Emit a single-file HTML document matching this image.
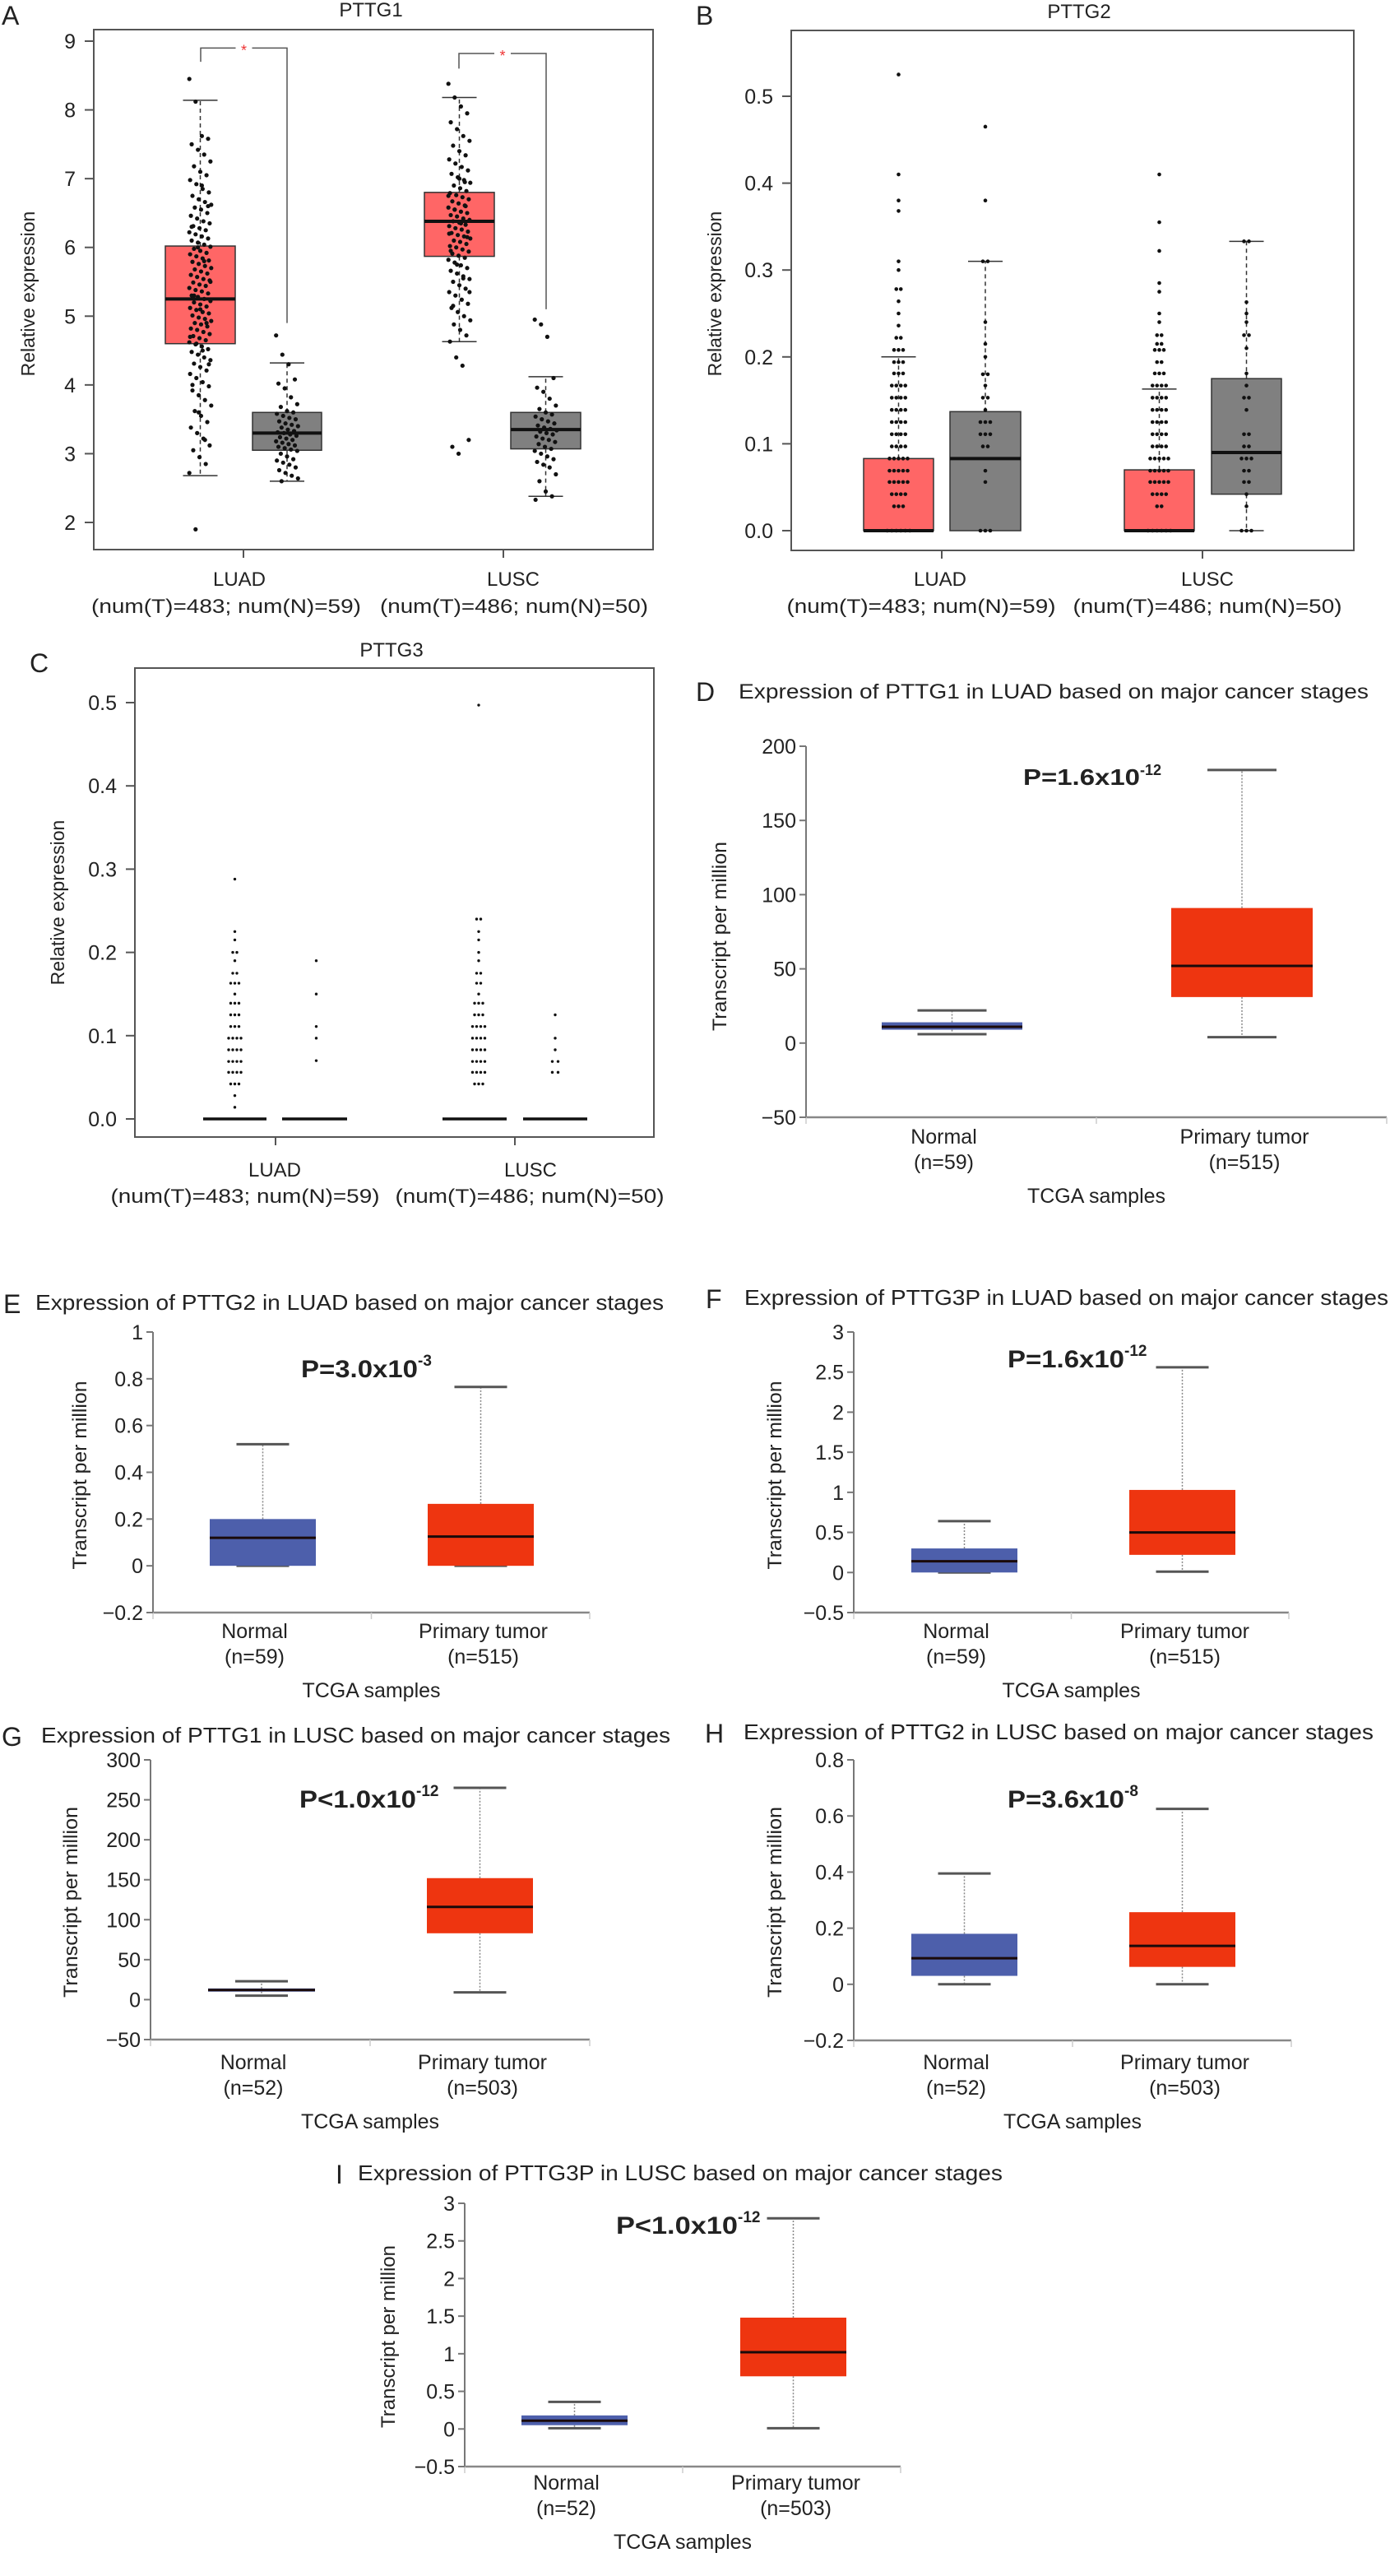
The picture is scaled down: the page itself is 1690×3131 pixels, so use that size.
<!DOCTYPE html>
<html><head><meta charset="utf-8"><title>PTTG expression figure</title>
<style>
html,body{margin:0;padding:0;background:#fff;}
svg{display:block;font-family:"Liberation Sans",Arial,sans-serif;}
text{fill:#222;}
</style></head>
<body>
<svg id="fig" xmlns="http://www.w3.org/2000/svg" width="1690" height="3131" viewBox="0 0 1690 3131">
<rect x="0" y="0" width="1690" height="3131" fill="#fff"/>
<!-- panel letters -->
<text x="2" y="30" font-size="32">A</text>
<text x="846" y="30" font-size="32">B</text>
<text x="36" y="817" font-size="32">C</text>
<text x="846" y="852" font-size="32">D</text>
<text x="4" y="1596" font-size="32">E</text>
<text x="858" y="1590" font-size="32">F</text>
<text x="2" y="2122" font-size="32">G</text>
<text x="857" y="2118" font-size="32">H</text>
<text x="408" y="2654" font-size="32">I</text>

<!-- A/B/C titles -->
<text x="451" y="20" font-size="24" text-anchor="middle">PTTG1</text>
<text x="1312" y="22" font-size="24" text-anchor="middle">PTTG2</text>
<text x="476" y="798" font-size="24" text-anchor="middle">PTTG3</text>

<text transform="translate(42,357) rotate(-90)" font-size="23" text-anchor="middle">Relative expression</text>
<text transform="translate(877,357) rotate(-90)" font-size="23" text-anchor="middle">Relative expression</text>
<text transform="translate(78,1097) rotate(-90)" font-size="23" text-anchor="middle">Relative expression</text>

<!-- A/B/C x labels -->
<text x="291" y="712" font-size="24" text-anchor="middle">LUAD</text>
<text x="275" y="745" font-size="24" text-anchor="middle" textLength="328" lengthAdjust="spacingAndGlyphs">(num(T)=483; num(N)=59)</text>
<text x="624" y="712" font-size="24" text-anchor="middle">LUSC</text>
<text x="625" y="745" font-size="24" text-anchor="middle" textLength="326" lengthAdjust="spacingAndGlyphs">(num(T)=486; num(N)=50)</text>

<text x="1143" y="712" font-size="24" text-anchor="middle">LUAD</text>
<text x="1120" y="745" font-size="24" text-anchor="middle" textLength="327" lengthAdjust="spacingAndGlyphs">(num(T)=483; num(N)=59)</text>
<text x="1468" y="712" font-size="24" text-anchor="middle">LUSC</text>
<text x="1468" y="745" font-size="24" text-anchor="middle" textLength="327" lengthAdjust="spacingAndGlyphs">(num(T)=486; num(N)=50)</text>

<text x="334" y="1430" font-size="24" text-anchor="middle">LUAD</text>
<text x="298" y="1462" font-size="24" text-anchor="middle" textLength="327" lengthAdjust="spacingAndGlyphs">(num(T)=483; num(N)=59)</text>
<text x="645" y="1430" font-size="24" text-anchor="middle">LUSC</text>
<text x="644" y="1462" font-size="24" text-anchor="middle" textLength="327" lengthAdjust="spacingAndGlyphs">(num(T)=486; num(N)=50)</text>

<!-- GEPIA titles -->
<text x="898" y="849" font-size="25" textLength="766" lengthAdjust="spacingAndGlyphs">Expression of PTTG1 in LUAD based on major cancer stages</text>
<text x="43" y="1592" font-size="26" textLength="764" lengthAdjust="spacingAndGlyphs">Expression of PTTG2 in LUAD based on major cancer stages</text>
<text x="905" y="1586" font-size="26" textLength="783" lengthAdjust="spacingAndGlyphs">Expression of PTTG3P in LUAD based on major cancer stages</text>
<text x="50" y="2118" font-size="26" textLength="765" lengthAdjust="spacingAndGlyphs">Expression of PTTG1 in LUSC based on major cancer stages</text>
<text x="904" y="2114" font-size="26" textLength="766" lengthAdjust="spacingAndGlyphs">Expression of PTTG2 in LUSC based on major cancer stages</text>
<text x="435" y="2650" font-size="26" textLength="784" lengthAdjust="spacingAndGlyphs">Expression of PTTG3P in LUSC based on major cancer stages</text>

<!-- P values -->
<text x="1244" y="954" font-size="28" font-weight="bold"><tspan textLength="142" lengthAdjust="spacingAndGlyphs">P=1.6x10</tspan><tspan dy="-12" font-size="18">-12</tspan></text>
<text x="366" y="1674" font-size="30" font-weight="bold"><tspan textLength="142" lengthAdjust="spacingAndGlyphs">P=3.0x10</tspan><tspan dy="-14" font-size="19">-3</tspan></text>
<text x="1225" y="1662" font-size="30" font-weight="bold"><tspan textLength="142" lengthAdjust="spacingAndGlyphs">P=1.6x10</tspan><tspan dy="-14" font-size="19">-12</tspan></text>
<text x="364" y="2197" font-size="30" font-weight="bold"><tspan textLength="142" lengthAdjust="spacingAndGlyphs">P&lt;1.0x10</tspan><tspan dy="-14" font-size="19">-12</tspan></text>
<text x="1225" y="2197" font-size="30" font-weight="bold"><tspan textLength="142" lengthAdjust="spacingAndGlyphs">P=3.6x10</tspan><tspan dy="-14" font-size="19">-8</tspan></text>
<text x="749" y="2715" font-size="30" font-weight="bold"><tspan textLength="148" lengthAdjust="spacingAndGlyphs">P&lt;1.0x10</tspan><tspan dy="-14" font-size="19">-12</tspan></text>

<!-- GEPIA axis titles -->
<text transform="translate(883,1138) rotate(-90)" font-size="24" text-anchor="middle" textLength="230" lengthAdjust="spacingAndGlyphs">Transcript per million</text>
<text transform="translate(105,1793) rotate(-90)" font-size="24" text-anchor="middle" textLength="229" lengthAdjust="spacingAndGlyphs">Transcript per million</text>
<text transform="translate(950,1793) rotate(-90)" font-size="24" text-anchor="middle" textLength="229" lengthAdjust="spacingAndGlyphs">Transcript per million</text>
<text transform="translate(94,2312) rotate(-90)" font-size="24" text-anchor="middle" textLength="232" lengthAdjust="spacingAndGlyphs">Transcript per million</text>
<text transform="translate(950,2312) rotate(-90)" font-size="24" text-anchor="middle" textLength="232" lengthAdjust="spacingAndGlyphs">Transcript per million</text>
<text transform="translate(480,2840) rotate(-90)" font-size="24" text-anchor="middle" textLength="222" lengthAdjust="spacingAndGlyphs">Transcript per million</text>

<g id="layer"></g>
</svg>

<script>
// ---------------- Panel A data (PTTG1 relative expression) ----------------
const aGroups = ['LUAD tumor','LUAD normal','LUSC tumor','LUSC normal'];
const aStatsLuadT = [2.68,4.6,5.25,6.02,8.14];
const aStatsLuadN = [2.6,3.05,3.3,3.6,4.32];
const aStatsLuscT = [4.63,5.87,6.38,6.8,8.18];
const aStatsLuscN = [2.38,3.07,3.35,3.6,4.12];
const aTicks = [2,3,4,5,6,7,8,9];
const aPtsLuadT = [8.45,8.12,7.62,7.58,7.5,7.42,7.35,7.25,7.18,7.1,7.05,6.98,6.92,6.85,6.8,6.75,6.7,6.66,6.62,6.58,6.55,6.5,6.46,6.42,6.38,6.35,6.31,6.28,6.25,6.22,6.19,6.16,6.13,6.1,6.07,6.04,6.01,5.98,5.95,5.92,5.9,5.87,5.84,5.81,5.79,5.76,5.73,5.7,5.68,5.65,5.62,5.6,5.57,5.54,5.52,5.49,5.46,5.44,5.41,5.38,5.36,5.33,5.3,5.28,5.25,5.22,5.2,5.17,5.14,5.12,5.09,5.06,5.04,5.01,4.98,4.96,4.93,4.9,4.88,4.85,4.82,4.8,4.77,4.74,4.71,4.68,4.65,4.62,4.59,4.56,4.52,4.48,4.44,4.4,4.36,4.31,4.26,4.21,4.16,4.1,4.04,3.98,3.92,3.85,3.78,3.7,3.62,3.55,3.46,3.38,3.3,3.22,3.12,3.05,2.95,2.85,2.72,1.9,6.9,6.6,6.3,6.0,5.8,5.5,5.3,5.1,4.9,4.7,4.6,4.5,4.3,4.0,3.6,3.2];
const aPtsLuadN = [4.72,4.44,4.3,4.08,4.02,3.95,3.82,3.72,3.68,3.62,3.6,3.58,3.55,3.52,3.5,3.47,3.44,3.42,3.4,3.38,3.35,3.33,3.31,3.3,3.28,3.26,3.24,3.22,3.2,3.18,3.16,3.14,3.12,3.1,3.08,3.06,3.04,3.0,2.96,2.92,2.9,2.87,2.84,2.8,2.76,2.72,2.68,2.64,2.6];
const aPtsLuscT = [8.38,8.18,8.05,7.95,7.82,7.72,7.62,7.55,7.48,7.4,7.34,7.28,7.22,7.17,7.12,7.07,7.02,6.98,6.94,6.9,6.86,6.82,6.79,6.76,6.73,6.7,6.67,6.64,6.61,6.58,6.55,6.52,6.5,6.47,6.45,6.42,6.4,6.38,6.36,6.33,6.31,6.28,6.26,6.23,6.21,6.18,6.16,6.13,6.1,6.08,6.05,6.02,6.0,5.97,5.94,5.91,5.88,5.85,5.82,5.78,5.74,5.7,5.66,5.62,5.58,5.54,5.5,5.45,5.4,5.35,5.3,5.24,5.18,5.12,5.06,5.0,4.94,4.88,4.8,4.72,4.63,4.4,4.28,3.2,3.1,3.0,6.95,6.75,6.55,6.35,6.15,5.95,5.75,5.55,5.35,5.15,7.0,6.6,6.2];
const aPtsLuscN = [4.95,4.88,4.7,4.1,3.96,3.9,3.8,3.7,3.65,3.6,3.57,3.54,3.5,3.47,3.44,3.41,3.38,3.36,3.34,3.32,3.3,3.28,3.25,3.22,3.2,3.17,3.14,3.1,3.07,3.04,3.0,2.96,2.92,2.88,2.84,2.8,2.7,2.6,2.45,2.38,2.33];
const aBracketLuad = [8.9,8.7,4.9];
const aBracketLusc = [8.82,8.6,5.1];

// ---------------- Panel B data (PTTG2) ----------------
const bStatsLuadT = [0,0,0,0.083,0.2];
const bStatsLuadN = [0,0,0.083,0.137,0.31];
const bStatsLuscT = [0,0,0,0.07,0.163];
const bStatsLuscN = [0,0.042,0.09,0.175,0.333];
const bTicks = [0.0,0.1,0.2,0.3,0.4,0.5];
const bLevLuadT = [0,0.028,0.042,0.056,0.069,0.083,0.097,0.111,0.125,0.139,0.153,0.167,0.181,0.194,0.208,0.222,0.236,0.25,0.264,0.278,0.3,0.31,0.368,0.38,0.41,0.525];
const bCntLuadT = [6,3,4,5,5,5,4,4,4,4,4,4,3,3,3,2,1,1,1,2,1,1,1,1,1,1];
const bLevLuadN = [0,0.056,0.069,0.097,0.111,0.125,0.139,0.153,0.167,0.18,0.2,0.215,0.24,0.31,0.38,0.465];
const bCntLuadN = [3,1,1,2,3,3,1,2,1,2,1,1,1,2,1,1];
const bLevLuscT = [0,0.028,0.042,0.056,0.069,0.083,0.097,0.111,0.125,0.139,0.153,0.167,0.181,0.194,0.208,0.215,0.225,0.24,0.25,0.275,0.285,0.322,0.355,0.41];
const bCntLuscT = [6,2,4,5,5,5,4,4,4,4,4,4,3,2,3,2,2,1,1,1,1,1,1,1];
const bLevLuscN = [0,0.028,0.042,0.056,0.069,0.083,0.097,0.111,0.139,0.153,0.167,0.181,0.21,0.225,0.24,0.25,0.263,0.333];
const bCntLuscN = [3,1,1,2,2,3,2,2,1,2,1,1,1,2,1,1,1,2];

// ---------------- Panel C data (PTTG3) ----------------
const cStatsLuadT = [0,0,0,0,0];
const cStatsLuadN = [0,0,0,0,0];
const cStatsLuscT = [0,0,0,0,0];
const cStatsLuscN = [0,0,0,0,0];
const cTicks = [0.0,0.1,0.2,0.3,0.4,0.5];
const cLevLuadT = [0.014,0.028,0.042,0.056,0.069,0.083,0.097,0.111,0.125,0.139,0.15,0.163,0.175,0.19,0.2,0.215,0.225,0.288];
const cCntLuadT = [1,1,3,4,4,4,4,3,3,3,1,3,2,1,2,1,1,1];
const cLevLuadN = [0.07,0.097,0.111,0.15,0.19];
const cCntLuadN = [1,1,1,1,1];
const cLevLuscT = [0.042,0.056,0.069,0.083,0.097,0.111,0.125,0.139,0.15,0.163,0.175,0.19,0.2,0.215,0.225,0.24,0.497];
const cCntLuscT = [3,4,4,4,4,4,3,3,1,2,2,1,1,1,1,2,1];
const cLevLuscN = [0.056,0.069,0.083,0.097,0.125];
const cCntLuscN = [2,2,1,1,1];

// ---------------- GEPIA panels: [min, q1, median, q3, max] ----------------
const dNormal = [6,9,11,14,22];
const dTumor = [4,31,52,91,184];
const dTicks = [-50,0,50,100,150,200];
const eNormal = [0,0,0.12,0.2,0.52];
const eTumor = [0,0,0.125,0.265,0.765];
const eTicks = [-0.2,0,0.2,0.4,0.6,0.8,1];
const fNormal = [0,0,0.14,0.3,0.64];
const fTumor = [0.01,0.22,0.5,1.03,2.56];
const fTicks = [-0.5,0,0.5,1,1.5,2,2.5,3];
const gNormal = [5,10,12,14,23];
const gTumor = [9,83,116,152,265];
const gTicks = [-50,0,50,100,150,200,250,300];
const hNormal = [0,0.03,0.093,0.18,0.395];
const hTumor = [0,0.062,0.137,0.257,0.625];
const hTicks = [-0.2,0,0.2,0.4,0.6,0.8];
const iNormal = [0.01,0.05,0.11,0.18,0.36];
const iTumor = [0.01,0.7,1.02,1.48,2.8];
const iTicks = [-0.5,0,0.5,1,1.5,2,2.5,3];
const gepiaCats = ['Normal','Primary tumor'];

const NS = 'http://www.w3.org/2000/svg';
const layer = document.getElementById('layer');
function el(tag, attrs){
  const e = document.createElementNS(NS, tag);
  for (const k in attrs) e.setAttribute(k, attrs[k]);
  layer.appendChild(e);
  return e;
}
function lin(d0,d1,r0,r1){ return v => r0 + (v-d0)*(r1-r0)/(d1-d0); }
function fmtTick(v, dec){ return dec ? v.toFixed(dec) : String(v); }

// ---------- R-style boxplot panel (A/B/C) ----------
function rPanel(id, frame, yDomain, yRange, ticks, dec, xTicks, groups){
  const y = lin(yDomain[0], yDomain[1], yRange[0], yRange[1]);
  const fr = el('rect', {x:frame[0], y:frame[1], width:frame[2]-frame[0], height:frame[3]-frame[1], fill:'none', stroke:'#555', 'stroke-width':2});
  
  
  ticks.forEach(t => {
    const tl = el('line', {x1:frame[0]-11, x2:frame[0], y1:y(t), y2:y(t), stroke:'#555', 'stroke-width':2});
    
    
    const tx = el('text', {x:frame[0]-22, y:y(t)+9, 'font-size':25, 'text-anchor':'end'});
    
    
    tx.textContent = fmtTick(t, dec);
  });
  xTicks.forEach(xt => {
    const l = el('line', {x1:xt, x2:xt, y1:frame[3], y2:frame[3]+10, stroke:'#555', 'stroke-width':2});
    
    
  });
  groups.forEach(g => {
    const s = g.stats, cx = g.cx, hw = g.hw;
    const isFlat = s[3] - s[1] <= 0;
    if (!isFlat) {
      const bx = el('rect', {x:cx-hw, y:y(s[3]), width:2*hw, height:y(s[1])-y(s[3]), fill:g.fill, stroke:'#333', 'stroke-width':1.5});
      
      
    }
    // whiskers
    if (s[4] > s[3]) {
      const w = el('line', {x1:cx, x2:cx, y1:y(s[3]), y2:y(s[4]), stroke:'#333', 'stroke-width':1.5, 'stroke-dasharray':'5,4'});
      
      
      const c = el('line', {x1:cx-21, x2:cx+21, y1:y(s[4]), y2:y(s[4]), stroke:'#333', 'stroke-width':1.5});
      
      
    }
    if (s[1] > s[0]) {
      const w = el('line', {x1:cx, x2:cx, y1:y(s[1]), y2:y(s[0]), stroke:'#333', 'stroke-width':1.5, 'stroke-dasharray':'5,4'});
      
      
      const c = el('line', {x1:cx-21, x2:cx+21, y1:y(s[0]), y2:y(s[0]), stroke:'#333', 'stroke-width':1.5});
      
      
    }
    // jittered points
    if (g.pts) {
      g.pts.forEach((v, i) => {
        const off = (((i*37) % 29) - 14) * 0.95;
        const p = el('circle', {cx:cx+off, cy:y(v), r:2.6, fill:'#111'});
        
        
      });
    }
    if (g.lev) {
      g.lev.forEach((v, i) => {
        const n = g.cnt[i];
        for (let k = 0; k < n; k++) {
          const off = (k - (n-1)/2) * g.sp + g.shift;
          const p = el('circle', {cx:cx+off, cy:y(v), r:g.r, fill:'#111'});
          
          
        }
      });
    }
    const md = el('line', {x1:cx-hw, x2:cx+hw, y1:y(s[2]), y2:y(s[2]), stroke:'#111', 'stroke-width':isFlat?3.5:4});
    
    
  });
  return y;
}

const yA = rPanel('a', [114,36,794,668], [2,9], [635,50], aTicks, 0, [296,612], [
  {name:'luad-tumor', cx:243.5, hw:42.5, stats:aStatsLuadT, fill:'#ff6666', pts:aPtsLuadT},
  {name:'luad-normal', cx:349, hw:42, stats:aStatsLuadN, fill:'#808080', pts:aPtsLuadN},
  {name:'lusc-tumor', cx:558.5, hw:42.5, stats:aStatsLuscT, fill:'#ff6666', pts:aPtsLuscT},
  {name:'lusc-normal', cx:663.5, hw:42.5, stats:aStatsLuscN, fill:'#808080', pts:aPtsLuscN}
]);
// significance brackets
[[aBracketLuad, 244, 349, 'luad'], [aBracketLusc, 558, 664, 'lusc']].forEach(b => {
  const v = b[0], x1 = b[1], x2 = b[2], xm = (x1+x2)/2;
  const pl = el('polyline', {points:`${x1},${yA(v[1])} ${x1},${yA(v[0])} ${xm-10},${yA(v[0])}`, fill:'none', stroke:'#555', 'stroke-width':1.5});
  
  
  const pr = el('polyline', {points:`${xm+10},${yA(v[0])} ${x2},${yA(v[0])} ${x2},${yA(v[2])}`, fill:'none', stroke:'#555', 'stroke-width':1.5});
  
  
  const st = el('text', {x:xm, y:yA(v[0])+9, 'font-size':18, 'text-anchor':'middle', fill:'#e33'});
  
  
  st.style.fill = '#e33';
  st.textContent = '*';
});

rPanel('b', [962,37,1646,669], [0,0.5], [645,117], bTicks, 1, [1145,1462], [
  {name:'luad-tumor', cx:1092.5, hw:42.5, stats:bStatsLuadT, fill:'#ff6666', lev:bLevLuadT, cnt:bCntLuadT, sp:5.5, shift:0, r:2.3},
  {name:'luad-normal', cx:1198, hw:43, stats:bStatsLuadN, fill:'#808080', lev:bLevLuadN, cnt:bCntLuadN, sp:6, shift:0, r:2.3},
  {name:'lusc-tumor', cx:1409.5, hw:42.5, stats:bStatsLuscT, fill:'#ff6666', lev:bLevLuscT, cnt:bCntLuscT, sp:5.5, shift:0, r:2.3},
  {name:'lusc-normal', cx:1515.5, hw:42.5, stats:bStatsLuscN, fill:'#808080', lev:bLevLuscN, cnt:bCntLuscN, sp:6, shift:0, r:2.3}
]);

rPanel('c', [164,812,795,1382], [0,0.5], [1360,854], cTicks, 1, [335,626], [
  {name:'luad-tumor', cx:285.5, hw:38.5, stats:cStatsLuadT, fill:'#ff6666', lev:cLevLuadT, cnt:cCntLuadT, sp:5, shift:0, r:1.7},
  {name:'luad-normal', cx:382.5, hw:39.5, stats:cStatsLuadN, fill:'#808080', lev:cLevLuadN, cnt:cCntLuadN, sp:5, shift:2, r:1.7},
  {name:'lusc-tumor', cx:577, hw:39, stats:cStatsLuscT, fill:'#ff6666', lev:cLevLuscT, cnt:cCntLuscT, sp:5, shift:5, r:1.7},
  {name:'lusc-normal', cx:675, hw:39, stats:cStatsLuscN, fill:'#808080', lev:cLevLuscN, cnt:cCntLuscN, sp:7, shift:0, r:1.7}
]);

// ---------- GEPIA-style panels ----------
function gepia(id, ax, right, yDomain, yRange, ticks, boxes, normal, tumor, capHalf, labY, nLabels){
  const y = lin(yDomain[0], yDomain[1], yRange[0], yRange[1]);
  const yb = y(yDomain[0]);
  const ya = el('line', {x1:ax, x2:ax, y1:y(ticks[ticks.length-1]), y2:yb, stroke:'#777', 'stroke-width':2});
  
  
  const xa = el('line', {x1:ax, x2:right, y1:yb, y2:yb, stroke:'#888', 'stroke-width':2.5});
  
  
  [ax, (ax+right)/2, right].forEach(xt => {
    const l = el('line', {x1:xt, x2:xt, y1:yb, y2:yb+8, stroke:'#ccc', 'stroke-width':1.5});
    
    
  });
  ticks.forEach(t => {
    const tl = el('line', {x1:ax-8, x2:ax, y1:y(t), y2:y(t), stroke:'#777', 'stroke-width':2});
    
    
    const tx = el('text', {x:ax-12, y:y(t)+9, 'font-size':25, 'text-anchor':'end'});
    
    
    tx.textContent = t < 0 ? '\u2212' + String(-t) : String(t);
  });
  [[normal, boxes[0], '#4d5fab', 'normal'], [tumor, boxes[1], '#ee3510', 'tumor']].forEach((b, bi) => {
    const s = b[0], x0 = b[1][0], x1 = b[1][1], cx = (x0+x1)/2, name = b[3];
    const wu = el('line', {x1:cx, x2:cx, y1:y(s[3]), y2:y(s[4]), stroke:'#888', 'stroke-width':1.5, 'stroke-dasharray':'2,2'});
    
    
    const wl = el('line', {x1:cx, x2:cx, y1:y(s[1]), y2:y(s[0]), stroke:'#888', 'stroke-width':1.5, 'stroke-dasharray':'2,2'});
    
    
    [s[0], s[4]].forEach((v, k) => {
      const c = el('line', {x1:cx-capHalf, x2:cx+capHalf, y1:y(v), y2:y(v), stroke:'#555', 'stroke-width':3});
      
      
    });
    const h = Math.max(y(s[1]) - y(s[3]), 2);
    const bx = el('rect', {x:x0, y:y(s[3]), width:x1-x0, height:h, fill:b[2]});
    
    
    const md = el('line', {x1:x0, x2:x1, y1:y(s[2]), y2:y(s[2]), stroke:'#1a0a0a', 'stroke-width':3});
    
    
    const lab = el('text', {x:cx + (bi ? 3 : -10), y:labY, 'font-size':25, 'text-anchor':'middle'});
    
    
    lab.textContent = gepiaCats[bi];
    const lab2 = el('text', {x:cx + (bi ? 3 : -10), y:labY+31, 'font-size':25, 'text-anchor':'middle'});
    
    
    lab2.textContent = nLabels[bi];
  });
  const xt = el('text', {x:(ax+right)/2, y:labY+72, 'font-size':25, 'text-anchor':'middle'});
  
  
  xt.textContent = 'TCGA samples';
}

gepia('d', 980, 1686, [-50,200], [1358,907], dTicks, [[1072,1243],[1424,1596]], dNormal, dTumor, 42, 1390, ['(n=59)','(n=515)']);
gepia('e', 186, 717, [-0.2,1], [1960,1619], eTicks, [[255,384],[520,649]], eNormal, eTumor, 32, 1991, ['(n=59)','(n=515)']);
gepia('f', 1038, 1567, [-0.5,3], [1960,1619], fTicks, [[1108,1237],[1373,1502]], fNormal, fTumor, 32, 1991, ['(n=59)','(n=515)']);
gepia('g', 183, 717, [-50,300], [2479,2139], gTicks, [[253,383],[519,648]], gNormal, gTumor, 32, 2515, ['(n=52)','(n=503)']);
gepia('h', 1038, 1570, [-0.2,0.8], [2480,2139], hTicks, [[1108,1237],[1373,1502]], hNormal, hTumor, 32, 2515, ['(n=52)','(n=503)']);
gepia('i', 565, 1095, [-0.5,3], [2998,2678], iTicks, [[634,763],[900,1029]], iNormal, iTumor, 32, 3026, ['(n=52)','(n=503)']);
</script>
</body></html>
